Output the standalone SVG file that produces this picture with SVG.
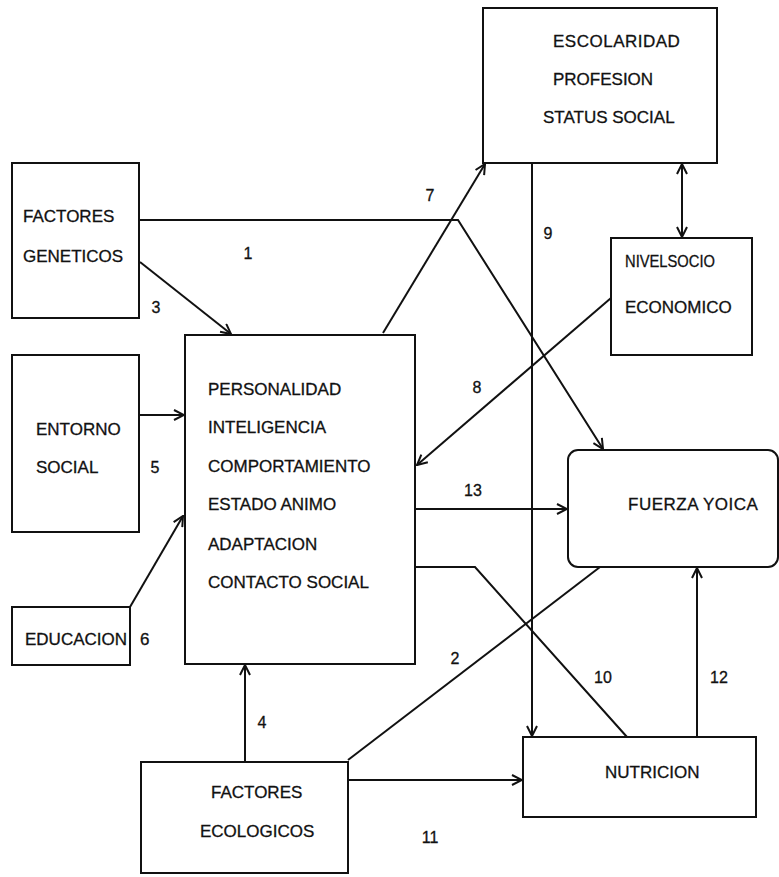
<svg xmlns="http://www.w3.org/2000/svg" width="779" height="877" viewBox="0 0 779 877">
<style>
.box{fill:none;stroke:#111;stroke-width:2}
.t{font-family:"Liberation Sans",Arial,sans-serif;font-size:17px;fill:#111;stroke:#111;stroke-width:0.3}
.n{font-family:"Liberation Sans",Arial,sans-serif;font-size:16px;fill:#111;stroke:#111;stroke-width:0.3}
.c{fill:none;stroke:#111;stroke-width:2}
</style>
<defs>
<marker id="ah" viewBox="0 0 12 12" refX="11" refY="6" markerWidth="12" markerHeight="12" markerUnits="userSpaceOnUse" orient="auto-start-reverse">
<path d="M1,1 L11,6 L1,11" fill="none" stroke="#111" stroke-width="2"/>
</marker>
</defs>
<rect width="779" height="877" fill="#fff"/>

<g id="connectors">
<polyline class="c" points="139,220 458,220 603,449" marker-end="url(#ah)"/>
<line class="c" x1="140" y1="262" x2="231" y2="334" marker-end="url(#ah)"/>
<line class="c" x1="139" y1="415" x2="184" y2="415" marker-end="url(#ah)"/>
<line class="c" x1="130" y1="607" x2="183" y2="516" marker-end="url(#ah)"/>
<line class="c" x1="245" y1="762" x2="245" y2="665" marker-end="url(#ah)"/>
<line class="c" x1="383" y1="333" x2="485" y2="164" marker-end="url(#ah)"/>
<line class="c" x1="682" y1="164" x2="682" y2="237" marker-start="url(#ah)" marker-end="url(#ah)"/>
<line class="c" x1="611" y1="298" x2="417" y2="465" marker-end="url(#ah)"/>
<line class="c" x1="532" y1="163" x2="532" y2="736" marker-end="url(#ah)"/>
<line class="c" x1="415" y1="509" x2="567" y2="509" marker-end="url(#ah)"/>
<polyline class="c" points="415,567 475,567 627,737"/>
<line class="c" x1="348" y1="760" x2="600" y2="567"/>
<line class="c" x1="348" y1="780" x2="522" y2="780" marker-end="url(#ah)"/>
<line class="c" x1="697" y1="737" x2="697" y2="568" marker-end="url(#ah)"/>
</g>

<g id="labels">
<text class="n" x="248" y="259" text-anchor="middle">1</text>
<text class="n" x="455" y="664" text-anchor="middle">2</text>
<text class="n" x="156" y="313" text-anchor="middle">3</text>
<text class="n" x="262" y="728" text-anchor="middle">4</text>
<text class="n" x="155" y="473" text-anchor="middle">5</text>
<text class="n" x="430" y="201" text-anchor="middle">7</text>
<text class="n" x="477" y="393" text-anchor="middle">8</text>
<text class="n" x="548" y="239" text-anchor="middle">9</text>
<text class="n" x="603" y="683" text-anchor="middle">10</text>
<text class="n" x="430" y="843" text-anchor="middle">11</text>
<text class="n" x="719" y="683" text-anchor="middle">12</text>
<text class="n" x="473" y="496" text-anchor="middle">13</text>
</g>

<g id="geneticos">
<rect class="box" x="12" y="163" width="127" height="155"/>
<text class="t" x="23" y="222">FACTORES</text>
<text class="t" x="23" y="262">GENETICOS</text>
</g>

<g id="entorno">
<rect class="box" x="12" y="355" width="127" height="177"/>
<text class="t" x="36" y="435">ENTORNO</text>
<text class="t" x="36" y="473">SOCIAL</text>
</g>

<g id="educacion">
<rect class="box" x="12" y="607" width="118" height="58"/>
<text class="t" x="25" y="645">EDUCACION</text>
<text class="t" x="140" y="645">6</text>
</g>

<g id="central">
<rect class="box" x="185" y="335" width="230" height="329"/>
<text class="t" x="208" y="395">PERSONALIDAD</text>
<text class="t" x="208" y="433">INTELIGENCIA</text>
<text class="t" x="208" y="472">COMPORTAMIENTO</text>
<text class="t" x="208" y="510">ESTADO ANIMO</text>
<text class="t" x="208" y="550">ADAPTACION</text>
<text class="t" x="208" y="588">CONTACTO SOCIAL</text>
</g>

<g id="escolaridad">
<rect class="box" x="483" y="8" width="234" height="155"/>
<text class="t" x="553" y="47" letter-spacing="0.5">ESCOLARIDAD</text>
<text class="t" x="553" y="85">PROFESION</text>
<text class="t" x="543" y="123">STATUS SOCIAL</text>
</g>

<g id="nivel">
<rect class="box" x="611" y="238" width="141" height="117"/>
<text class="t" x="625" y="267" textLength="90" lengthAdjust="spacingAndGlyphs">NIVELSOCIO</text>
<text class="t" x="625" y="313">ECONOMICO</text>
</g>

<g id="fuerza">
<rect class="box" x="568" y="450" width="210" height="117" rx="10"/>
<text class="t" x="628" y="510" letter-spacing="0.5">FUERZA YOICA</text>
</g>

<g id="ecologicos">
<rect class="box" x="141" y="762" width="207" height="111"/>
<text class="t" x="211" y="798">FACTORES</text>
<text class="t" x="200" y="837">ECOLOGICOS</text>
</g>

<g id="nutricion">
<rect class="box" x="523" y="737" width="233" height="80"/>
<text class="t" x="605" y="778">NUTRICION</text>
</g>
</svg>
